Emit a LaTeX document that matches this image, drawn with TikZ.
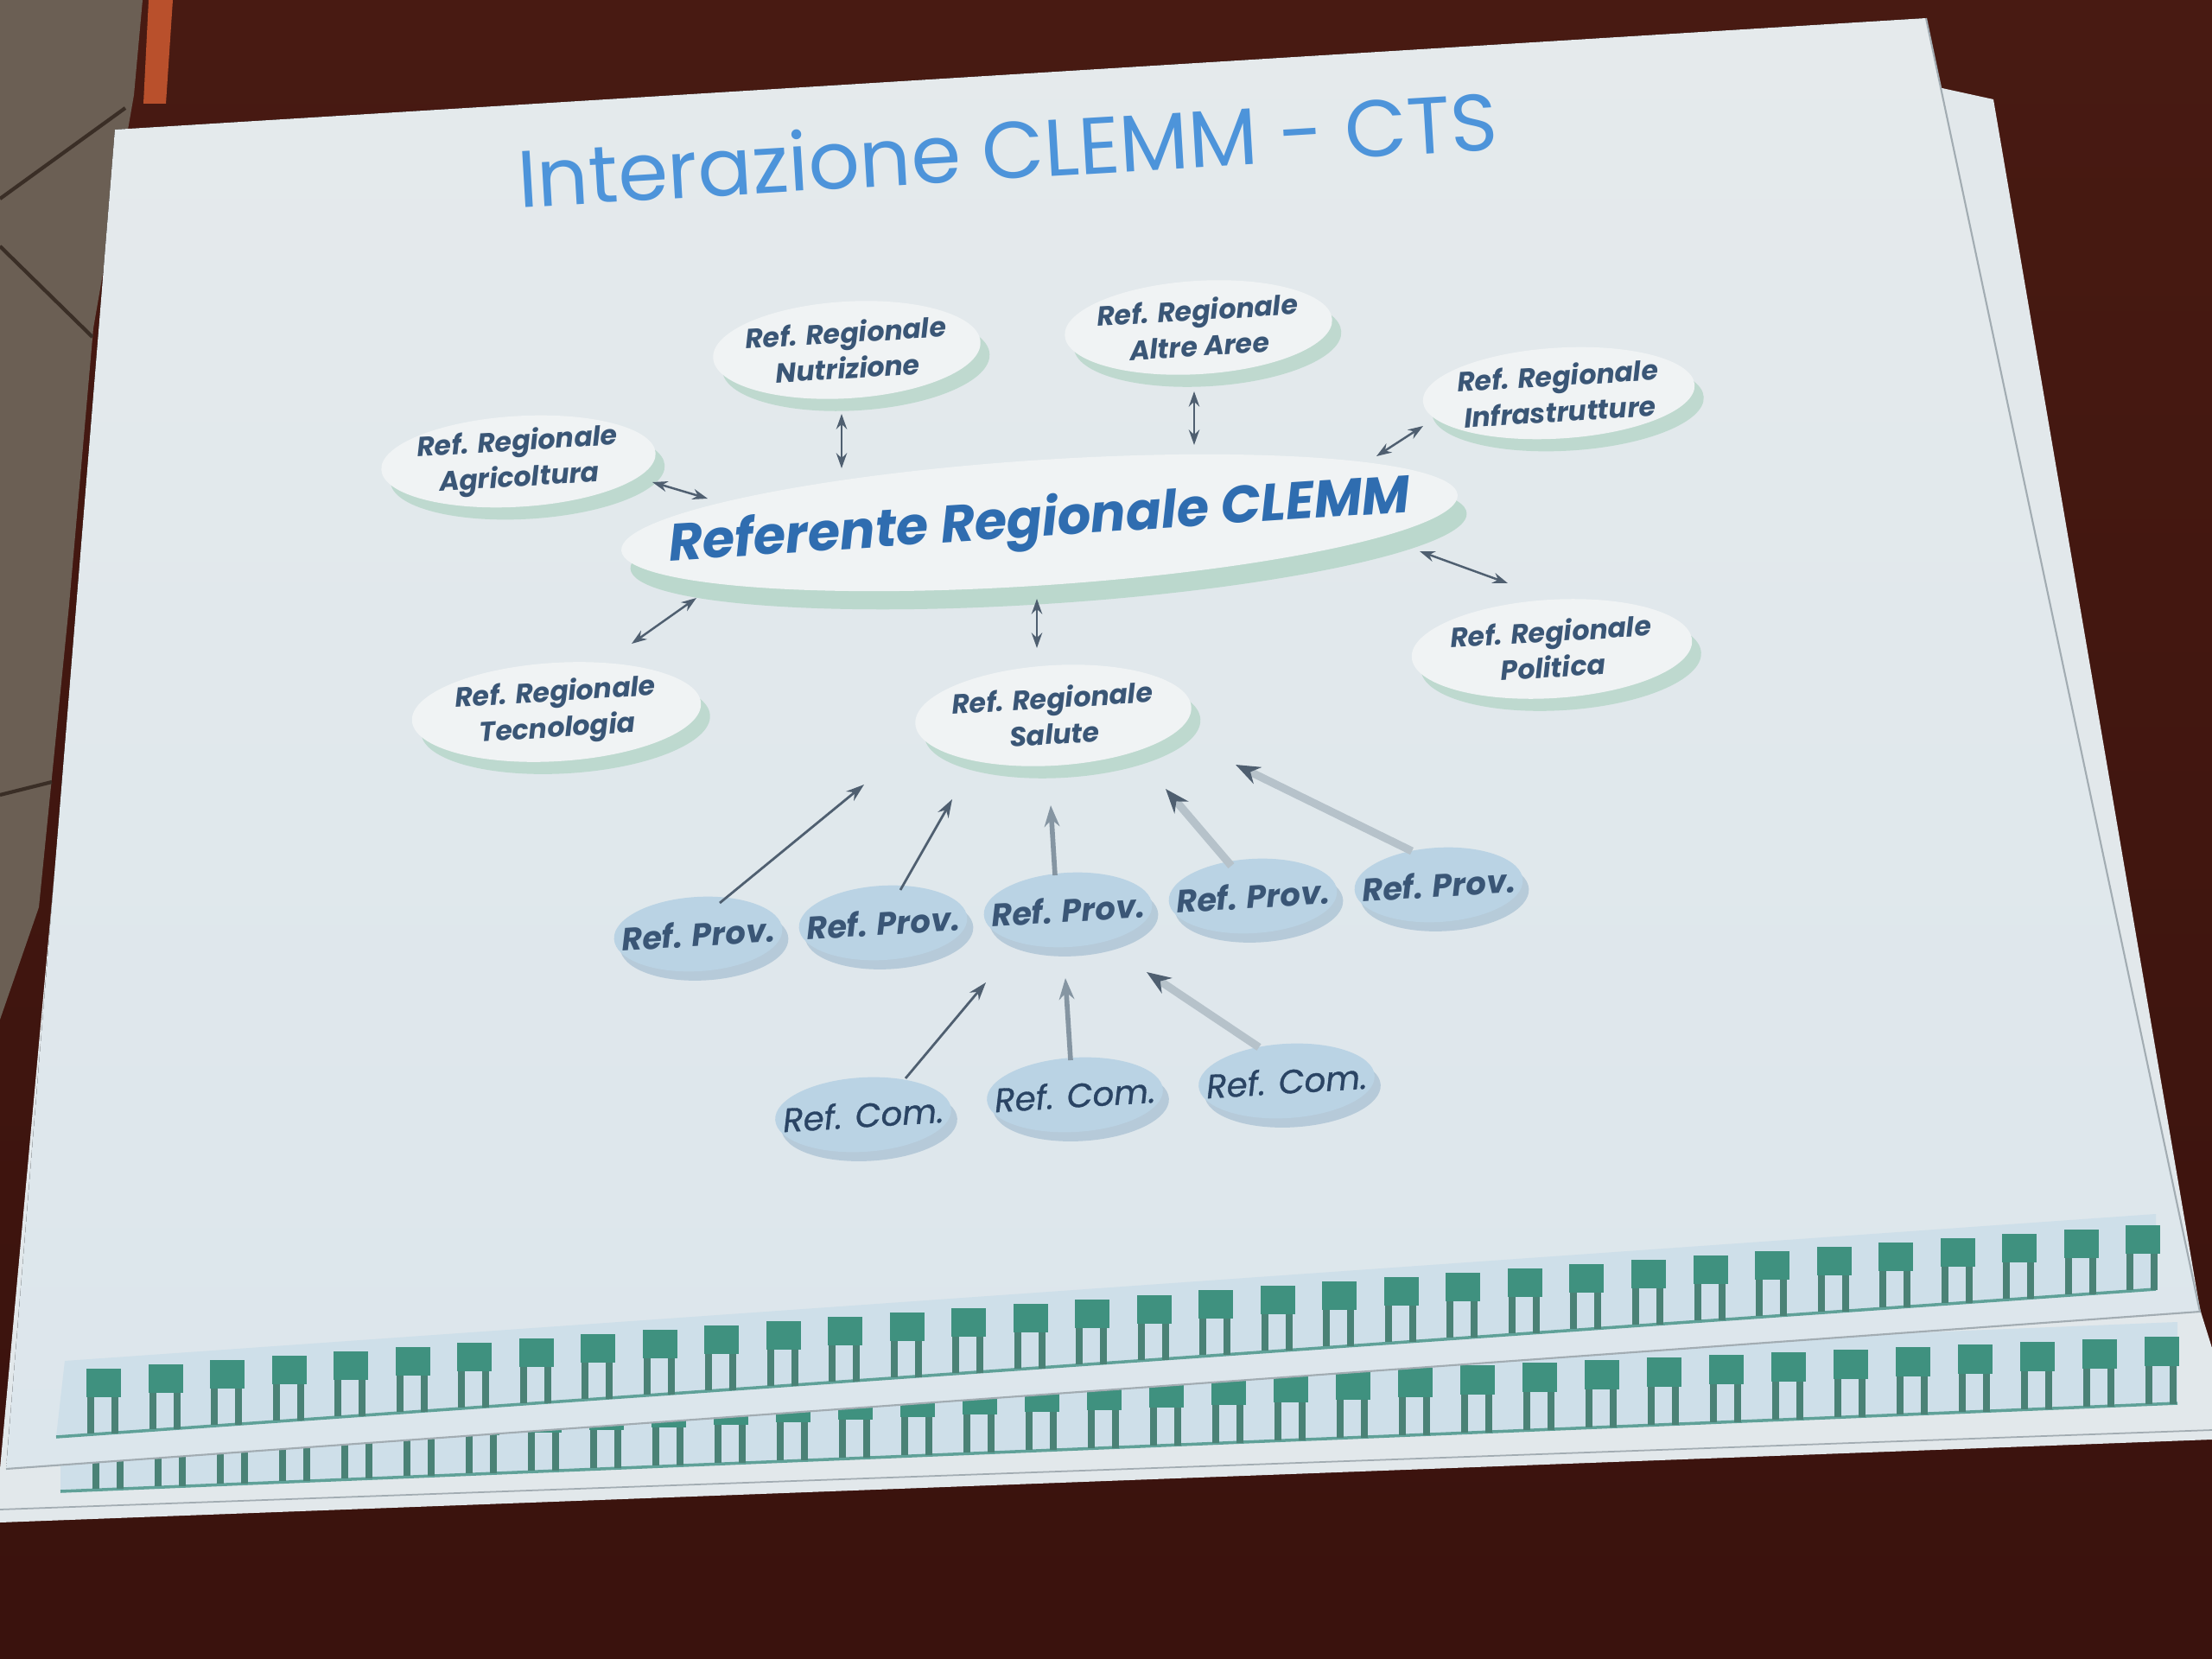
\documentclass[tikz,border=0pt]{standalone}
\usepackage{fontspec}
\setmainfont{Poppins}
\newfontfamily\comfont{Poppins}[FakeBold=0.9]
\usetikzlibrary{shapes.geometric,shadows,arrows.meta}
\definecolor{tabletop}{HTML}{481A12}
\definecolor{tablebot}{HTML}{3A120D}
\definecolor{tile}{HTML}{6B5F54}
\definecolor{tileline}{HTML}{3A2E26}
\definecolor{orangec}{HTML}{B9502C}
\definecolor{paper}{HTML}{E5EAEC}
\definecolor{paperlow}{HTML}{DCE6EC}
\definecolor{papertwo}{HTML}{E2E8EB}
\definecolor{edgec}{HTML}{A2ACB2}
\definecolor{band}{HTML}{CEDFE9}
\definecolor{basec}{HTML}{5FA198}
\definecolor{clipc}{HTML}{3F917F}
\definecolor{clipleg}{HTML}{4A8276}
\definecolor{titleblue}{HTML}{4D94DA}
\definecolor{clemmblue}{HTML}{2F6DB0}
\definecolor{nodetext}{HTML}{3A5676}
\definecolor{comtext}{HTML}{2A4464}
\definecolor{ellfill}{HTML}{F0F3F4}
\definecolor{shadowgreen}{HTML}{9CCBB4}
\definecolor{provfill}{HTML}{BAD3E4}
\definecolor{provshadow}{HTML}{86A8C2}
\definecolor{arrowc}{HTML}{4F5F70}
\definecolor{arrowmid}{HTML}{8595A2}
\definecolor{arrowlight}{HTML}{B6C2CA}
\begin{document}
\begin{tikzpicture}[
  regnode/.style={ellipse, fill=ellfill, inner sep=-1cm, rotate=3.5, align=center,
    text=nodetext, font=\fontsize{9}{11.8}\selectfont\bfseries\itshape,
    drop shadow={shadow xshift=3pt, shadow yshift=-4pt, fill=shadowgreen, opacity=0.5}},
  mainnode/.style={ellipse, fill=ellfill, inner sep=-3cm, rotate=3.8,
    minimum width=9.7cm, minimum height=1.45cm,
    text=clemmblue, font=\bfseries\itshape,
    drop shadow={shadow xshift=3pt, shadow yshift=-6pt, fill=shadowgreen, opacity=0.55}},
  provnode/.style={ellipse, fill=provfill, inner sep=-1cm, rotate=3.5,
    minimum width=1.95cm, minimum height=0.86cm,
    text=nodetext, font=\fontsize{10.5}{11}\selectfont\bfseries\itshape,
    drop shadow={shadow xshift=2pt, shadow yshift=-3pt, fill=provshadow, opacity=0.45}},
  comnode/.style={ellipse, fill=provfill, inner sep=-1cm, rotate=3.5,
    minimum width=2.04cm, minimum height=0.86cm,
    text=comtext, font=\fontsize{11}{12}\selectfont\comfont\itshape,
    drop shadow={shadow xshift=2pt, shadow yshift=-3pt, fill=provshadow, opacity=0.45}},
  titlenode/.style={rotate=3.4, text=titleblue, inner sep=0pt},
  biarrow/.style={{Stealth[length=5pt,width=3.5pt]}-{Stealth[length=5pt,width=3.5pt]}, draw=arrowc, line width=0.7pt},
  thinarrow/.style={-{Stealth[length=6pt,width=4pt]}, draw=arrowc, line width=0.8pt},
  midarrow/.style={-{Stealth[length=7pt,width=5pt]}, draw=arrowmid, line width=1.6pt},
  lightarrow/.style={-{Stealth[length=8pt,width=6pt,color=arrowc]}, draw=arrowlight, line width=2.6pt}
]
\useasboundingbox (0,0) rectangle (25.6,-19.2);
% table
\fill[top color=tabletop, bottom color=tablebot] (0,0) rectangle (25.6,-19.2);
% tiles in the corner
\fill[tile] (0,0) -- (1.65,0) -- (1.55,-1.1) -- (1.08,-3.8) -- (0.80,-7.0) -- (0.45,-10.5) -- (0,-11.8) -- cycle;
\draw[tileline, line width=1.2pt] (0,-2.3) -- (1.45,-1.25);
\draw[tileline, line width=1.2pt] (0,-2.85) -- (1.07,-3.9);
\draw[tileline, line width=1.2pt] (0,-9.2) -- (0.6,-9.05);
\fill[orangec] (1.72,0) -- (2.0,0) -- (1.92,-1.2) -- (1.66,-1.2) -- cycle;
% lower sheet
\fill[papertwo] (0,-17.0) -- (1.4,-1.7) -- (22.43,-1.01) -- (23.07,-1.15) -- (25.46,-15.15) -- (25.6,-15.6) -- (25.6,-16.66) -- (0,-17.62) -- cycle;
\draw[edgec, line width=0.5pt] (0,-17.47) -- (25.6,-16.55);
% band and clips of lower sheet
\fill[band] (0.7,-17.26) -- (25.2,-16.24) -- (25.2,-15.3) -- (0.7,-16.3) -- cycle;
\draw[basec, line width=1pt] (0.7,-17.26) -- (25.2,-16.24);
\foreach \i in {0,...,33}{
  \pgfmathsetmacro{\cx}{1.27+0.72*\i}
  \pgfmathsetmacro{\cy}{-17.23+0.0297*\i}
  \fill[clipleg] ({\cx-0.20},{\cy}) rectangle ({\cx-0.12},{\cy+0.5});
  \fill[clipleg] ({\cx+0.08},{\cy}) rectangle ({\cx+0.16},{\cy+0.5});
  \fill[clipc] ({\cx-0.21},{\cy+0.44}) rectangle ({\cx+0.19},{\cy+0.78});
}
% top sheet
\fill[top color=paper, bottom color=paperlow] (1.33,-1.50) -- (22.29,-0.21) -- (25.46,-15.18) -- (0.07,-17.00) -- cycle;
\draw[edgec, line width=0.6pt] (22.29,-0.21) -- (25.46,-15.18) -- (0.07,-17.00);
% band and clips of top sheet
\fill[band] (0.65,-16.63) -- (24.95,-14.92) -- (24.95,-14.05) -- (0.75,-15.75) -- cycle;
\draw[basec, line width=1pt] (0.65,-16.63) -- (24.95,-14.92);
\foreach \i in {0,...,33}{
  \pgfmathsetmacro{\cx}{1.21+0.7152*\i}
  \pgfmathsetmacro{\cy}{-16.59+0.0503*\i}
  \fill[clipleg] ({\cx-0.20},{\cy}) rectangle ({\cx-0.12},{\cy+0.5});
  \fill[clipleg] ({\cx+0.08},{\cy}) rectangle ({\cx+0.16},{\cy+0.5});
  \fill[clipc] ({\cx-0.21},{\cy+0.42}) rectangle ({\cx+0.19},{\cy+0.75});
}
% title
\node[titlenode] (title) at (11.66,-1.72) {\resizebox{11.36cm}{!}{Interazione CLEMM - CTS}};
% regional nodes
\node[regnode, minimum width=3.18cm, minimum height=1.05cm] (agr) at (6.00,-5.34) {Ref. Regionale\\Agricoltura};
\node[regnode, minimum width=3.10cm, minimum height=1.12cm] (nut) at (9.80,-4.05) {Ref. Regionale\\Nutrizione};
\node[regnode, minimum width=3.10cm, minimum height=1.08cm] (alt) at (13.87,-3.79) {Ref. Regionale\\Altre Aree};
\node[regnode, minimum width=3.15cm, minimum height=1.05cm] (inf) at (18.04,-4.55) {Ref. Regionale\\Infrastrutture};
\node[regnode, minimum width=3.25cm, minimum height=1.14cm] (pol) at (17.96,-7.51) {Ref. Regionale\\Politica};
\node[regnode, minimum width=3.35cm, minimum height=1.14cm] (tec) at (6.44,-8.24) {Ref. Regionale\\Tecnologia};
\node[regnode, minimum width=3.20cm, minimum height=1.16cm] (sal) at (12.19,-8.28) {Ref. Regionale\\Salute};
\node[mainnode] (clemm) at (12.03,-6.05) {\resizebox{8.6cm}{!}{Referente Regionale CLEMM}};
% provincial nodes
\node[provnode] (p1) at (8.08,-10.81) {Ref. Prov.};
\node[provnode] (p2) at (10.22,-10.68) {Ref. Prov.};
\node[provnode] (p3) at (12.36,-10.53) {Ref. Prov.};
\node[provnode] (p4) at (14.50,-10.37) {Ref. Prov.};
\node[provnode] (p5) at (16.65,-10.24) {Ref. Prov.};
% communal nodes
\node[comnode] (c1) at (9.99,-12.90) {Ref. Com.};
\node[comnode] (c2) at (12.44,-12.67) {Ref. Com.};
\node[comnode] (c3) at (14.89,-12.51) {Ref. Com.};
% arrow end points
\coordinate (agrA) at (7.55,-5.58);  \coordinate (agrB) at (8.19,-5.77);
\coordinate (nutA) at (9.74,-4.79);  \coordinate (nutB) at (9.74,-5.42);
\coordinate (altA) at (13.82,-4.53); \coordinate (altB) at (13.82,-5.15);
\coordinate (infA) at (16.47,-4.93); \coordinate (infB) at (15.93,-5.28);
\coordinate (polA) at (16.43,-6.38); \coordinate (polB) at (17.45,-6.75);
\coordinate (tecA) at (8.06,-6.92);  \coordinate (tecB) at (7.31,-7.45);
\coordinate (salA) at (12.00,-6.93); \coordinate (salB) at (12.00,-7.50);
\coordinate (p1a) at (8.33,-10.45);  \coordinate (p1b) at (10.00,-9.08);
\coordinate (p2a) at (10.42,-10.30); \coordinate (p2b) at (11.02,-9.25);
\coordinate (p3a) at (12.21,-10.13); \coordinate (p3b) at (12.16,-9.32);
\coordinate (p4a) at (14.25,-10.02); \coordinate (p4b) at (13.49,-9.13);
\coordinate (p5a) at (16.34,-9.85);  \coordinate (p5b) at (14.30,-8.85);
\coordinate (c1a) at (10.48,-12.48); \coordinate (c1b) at (11.41,-11.37);
\coordinate (c2a) at (12.39,-12.27); \coordinate (c2b) at (12.33,-11.32);
\coordinate (c3a) at (14.57,-12.12); \coordinate (c3b) at (13.27,-11.25);
% connectors
\draw[biarrow] (agrA) -- (agrB);
\draw[biarrow] (nutA) -- (nutB);
\draw[biarrow] (altA) -- (altB);
\draw[biarrow] (infA) -- (infB);
\draw[biarrow] (polA) -- (polB);
\draw[biarrow] (tecA) -- (tecB);
\draw[biarrow] (salA) -- (salB);
\draw[thinarrow] (p1a) -- (p1b);
\draw[thinarrow] (p2a) -- (p2b);
\draw[midarrow] (p3a) -- (p3b);
\draw[lightarrow] (p4a) -- (p4b);
\draw[lightarrow] (p5a) -- (p5b);
\draw[thinarrow] (c1a) -- (c1b);
\draw[midarrow] (c2a) -- (c2b);
\draw[lightarrow] (c3a) -- (c3b);
\end{tikzpicture}
\end{document}
